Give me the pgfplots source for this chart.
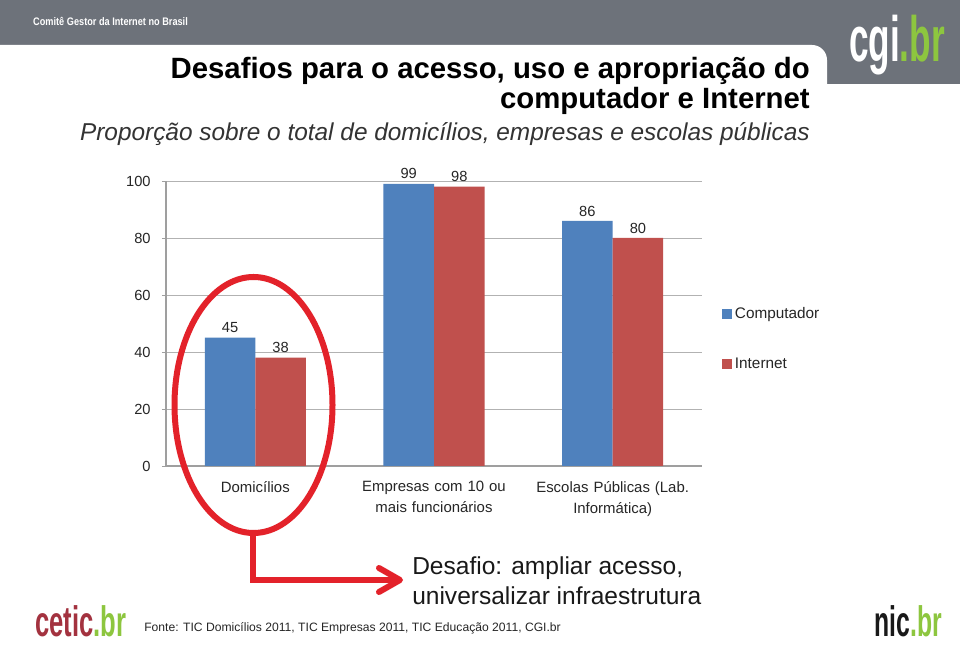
\documentclass[border=0pt]{standalone}
\usepackage{fontspec}
\setmainfont{Liberation Sans}
\usepackage{pgfplots}
\pgfplotsset{compat=1.18}
\definecolor{cblue}{HTML}{4F81BD}
\definecolor{cred}{HTML}{C0504D}
\definecolor{hdr}{HTML}{6D727A}
\definecolor{markred}{HTML}{E3222A}
\definecolor{lgreen}{HTML}{8DC63F}
\definecolor{ceticred}{HTML}{A3323F}
\begin{document}
\begin{tikzpicture}[x=0.75pt,y=0.75pt]
\path[use as bounding box, fill=white] (0,0) rectangle (960,645);
% header
\fill[hdr] (0,561) rectangle (960,645);
\fill[white, rounded corners=11.25pt] (-30,400) rectangle (827,600);
\node[anchor=base west, text=white, xscale=0.84, inner sep=0pt, font=\fontsize{8.2pt}{10pt}\selectfont\bfseries] at (33,619) {Comitê Gestor da Internet no Brasil};
\node[anchor=base east, inner sep=0pt, xscale=0.55, font=\fontsize{48pt}{50pt}\selectfont\bfseries] at (945,583) {\textcolor{white}{cgi}\textcolor{lgreen}{.br}};
% title
\node[anchor=base east, inner sep=0pt, font=\fontsize{22pt}{26pt}\selectfont\bfseries] at (810,566) {Desafios para o acesso, uso e apropriação do};
\node[anchor=base east, inner sep=0pt, font=\fontsize{22pt}{26pt}\selectfont\bfseries] at (810,536) {computador e Internet};
\node[anchor=base east, inner sep=0pt, text=black!80, font=\fontsize{18.3pt}{22pt}\selectfont\itshape] at (810,504) {Proporção sobre o total de domicílios, empresas e escolas públicas};
\begin{axis}[
  at={(124.5pt,134.25pt)}, anchor=south west,
  scale only axis, width=402pt, height=213.75pt,
  xmin=-0.5, xmax=2.5, ymin=0, ymax=100,
  ybar=0pt, bar width=37.9pt,
  axis x line*=bottom, axis y line*=left,
  axis line style={draw=gray!75, line width=0.8pt},
  ymajorgrids, grid style={gray!60, line width=0.6pt},
  ytick={0,20,...,100},
  ytick style={draw=gray!75, line width=0.6pt},
  tick align=outside, major tick length=3pt,
  yticklabel style={xshift=-5pt, text=black!85, font=\fontsize{11pt}{12pt}\selectfont},
  /pgf/number format/assume math mode=true,
  xtick={0,1,2},
  xticklabels={Domicílios, Empresas com 10 ou\\mais funcionários, Escolas Públicas (Lab.\\Informática)},
  xtick style={draw=none},
  xticklabel style={align=center, text width=150pt, yshift=-5pt, text=black!85, font=\fontsize{11.2pt}{15.75pt}\selectfont},
  extra x ticks={-0.5,0.5,1.5,2.5},
  extra x tick labels={},
  extra x tick style={major tick length=4pt, tick style={draw=gray!75, line width=0.6pt}},
  nodes near coords,
  every node near coord/.append style={text=black!85, font=\fontsize{11pt}{12pt}\selectfont},
  legend style={at={(rel axis cs:1,0.446)}, anchor=west, xshift=12pt, draw=none, fill=none,
    font=\fontsize{11.5pt}{12pt}\selectfont, row sep=24pt, text=black!85},
  legend cell align=left,
  legend image code/.code={\fill[#1, draw=none] (0pt,-3.75pt) rectangle (7.5pt,3.75pt);},
]
\addplot[fill=cblue, draw=none] coordinates {(0,45) (1,99) (2,86)};
\addplot[fill=cred, draw=none] coordinates {(0,38) (1,98) (2,80)};
\legend{Computador, Internet}
\end{axis}
% highlight
\draw[markred, line width=4.5pt] (253.5,240) ellipse [x radius=79, y radius=128];
\draw[markred, line width=4.5pt, line join=miter] (253,115) -- (253,65) -- (398,65);
\draw[markred, line width=4.5pt, line cap=round, line join=round] (379,77) -- (400,65) -- (379,53);
\node[anchor=base west, inner sep=0pt, text=black!90, font=\fontsize{18.4pt}{22pt}\selectfont] at (412,70) {Desafio: ampliar acesso,};
\node[anchor=base west, inner sep=0pt, text=black!90, font=\fontsize{18.4pt}{22pt}\selectfont] at (412,40) {universalizar infraestrutura};
% footer
\node[anchor=base west, inner sep=0pt, text=black!85, font=\fontsize{9.1pt}{11pt}\selectfont] at (144,13) {Fonte: TIC Domicílios 2011, TIC Empresas 2011, TIC Educação 2011, CGI.br};
\node[anchor=base west, inner sep=0pt, xscale=0.6, font=\fontsize{32pt}{34pt}\selectfont\bfseries] at (35,8) {\textcolor{ceticred}{cetic}\textcolor{lgreen}{.br}};
\node[anchor=base east, inner sep=0pt, xscale=0.58, font=\fontsize{32pt}{34pt}\selectfont\bfseries] at (942,8) {\textcolor{black!90}{nic}\textcolor{lgreen}{.br}};
\end{tikzpicture}
\end{document}
